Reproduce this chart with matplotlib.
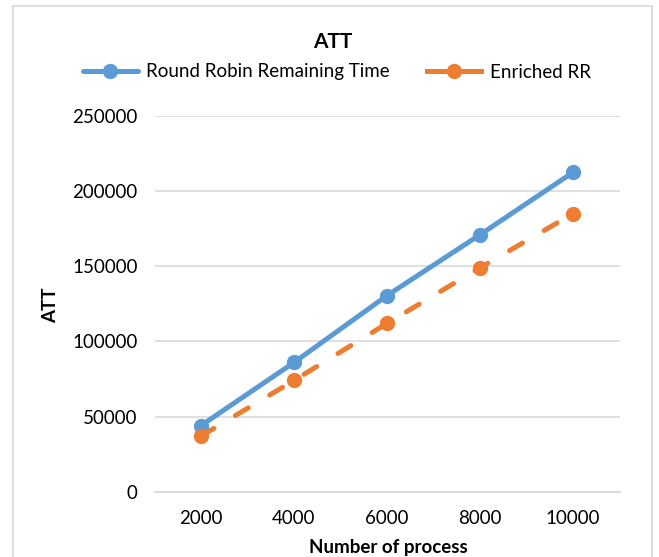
import matplotlib
matplotlib.use("Agg")
import matplotlib.pyplot as plt
from matplotlib.patches import Rectangle

# data
processes = ["2000", "4000", "6000", "8000", "10000"]
rr_remaining = [44000, 86000, 130500, 171000, 212500]
enriched_rr = [37000, 74000, 112000, 149000, 185000]
yticks = [0, 50000, 100000, 150000, 200000, 250000]

BLUE = "#5B9BD5"
ORANGE = "#ED7D31"
GRID = "#D9D9D9"
FONT = "Lato"
FS = 13.5

fig = plt.figure(figsize=(6.59, 5.57), dpi=100)
fig.patch.set_facecolor("white")

# chart frame
fig.patches.append(Rectangle((13 / 659, -0.05), (652 - 13) / 659, 1.05 - 6 / 557,
                             transform=fig.transFigure, fill=False,
                             edgecolor="#D9D9D9", linewidth=1.2))

ax = fig.add_axes([154.5 / 659, 1 - 491.7 / 557, 465 / 659, 375.7 / 557])
x = list(range(len(processes)))

ax.plot(x, rr_remaining, color=BLUE, lw=3.6, marker="o", markersize=10,
        solid_capstyle="round", label="Round Robin Remaining Time", zorder=3)
ax.plot(x, enriched_rr, color=ORANGE, lw=3.6, marker="o", markersize=10,
        linestyle=(0, (3.0, 5.0)), dash_capstyle="round",
        label="Enriched RR", zorder=3)

ax.set_xlim(-0.5, 4.5)
ax.set_ylim(0, 250000)
ax.set_xticks(x)
ax.set_xticklabels(processes, fontfamily=FONT, fontsize=FS)
ax.set_yticks(yticks)
ax.set_yticklabels([str(v) for v in yticks], fontfamily=FONT, fontsize=FS)
ax.tick_params(length=0, pad=12)
ax.tick_params(axis="x", pad=13)
ax.grid(axis="y", color=GRID, lw=1.2)
ax.set_axisbelow(True)
for s in ax.spines.values():
    s.set_visible(False)
ax.spines["bottom"].set_visible(True)
ax.spines["bottom"].set_color(GRID)
ax.spines["bottom"].set_linewidth(1.2)

fig.text(333 / 659, 1 - 42.5 / 557, "ATT", ha="center", va="center",
         fontfamily=FONT, fontsize=15, fontweight="bold")
fig.text(51 / 659, 1 - 305 / 557, "ATT", ha="center", va="center", rotation=90,
         fontfamily=FONT, fontsize=FS, fontweight="bold")
fig.text(388 / 659, 1 - 547 / 557, "Number of process", ha="center", va="center",
         fontfamily=FONT, fontsize=FS, fontweight="bold")

leg = fig.legend(loc="center", bbox_to_anchor=(337 / 659, 1 - 72 / 557), ncol=2,
                 frameon=False, prop={"family": FONT, "size": FS},
                 handlelength=2.9, handletextpad=0.45, columnspacing=2.0)
# legend lines are drawn solid
for h in leg.get_lines():
    h.set_linestyle("-")

fig.savefig("out.png", dpi=100)
